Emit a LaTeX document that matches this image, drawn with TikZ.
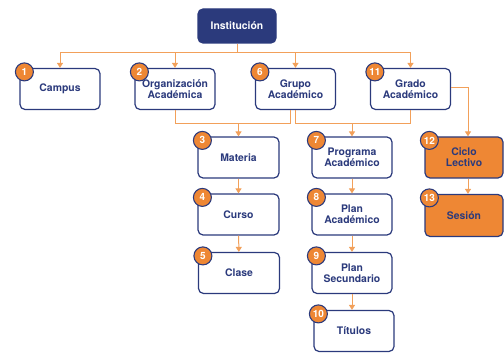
\documentclass[tikz,border=0pt]{standalone}
\usepackage{fontspec}
\setmainfont{TeX Gyre Heros}
\usetikzlibrary{arrows.meta}
\definecolor{navy}{HTML}{2B3A7C}
\definecolor{orng}{HTML}{EE8734}
\definecolor{lorng}{HTML}{F2A05A}
\begin{document}
\begin{tikzpicture}[x=1pt,y=-1pt,
  box/.style={rectangle,rounded corners=5pt,draw=navy,line width=1.2pt,fill=white,
    minimum width=80pt,minimum height=41pt,text=navy,align=center,
    font=\bfseries\fontsize{10.4}{11}\selectfont,inner sep=1pt},
  obox/.style={box,fill=orng,minimum width=78pt},
  badge/.style={circle,draw=navy,line width=1.1pt,fill=orng,minimum size=18pt,inner sep=0pt,
    text=white,font=\bfseries\fontsize{10}{10}\selectfont},
  conn/.style={draw=lorng,line width=1pt},
  arr/.style={conn,-{Triangle[width=6pt,length=5pt]}}
]
\useasboundingbox (0,0) rectangle (504,353);
% nodes
\node[box,fill=navy,text=white,minimum width=78pt,minimum height=34pt] (inst) at (237,26) {Institución};
\node[box] (campus) at (60,89) {Campus};
\node[box] (org) at (175,89) {Organización\\Académica};
\node[box] (grupo) at (295.5,89) {Grupo\\Académico};
\node[box] (grado) at (410.5,89) {Grado\\Académico};
\node[box,minimum width=81pt] (materia) at (238.5,157.5) {Materia};
\node[box,minimum width=81pt] (curso) at (238.5,214.5) {Curso};
\node[box,minimum width=81pt] (clase) at (239,273) {Clase};
\node[box] (prog) at (352,157.5) {Programa\\Académico};
\node[box] (planac) at (352,214.5) {Plan\\Académico};
\node[box] (plansec) at (352,273) {Plan\\Secundario};
\node[box] (titulos) at (354,331) {Títulos};
\node[obox] (ciclo) at (464,157.5) {Ciclo\\Lectivo};
\node[obox,minimum height=42pt] (sesion) at (464,215.5) {Sesión};
% coordinates
\coordinate (top) at (0,53);
\coordinate (mid) at (0,124);
\coordinate (gr) at (468,88);
% connectors
\draw[conn] (inst.south) -- (inst.south |- top);
\draw[conn] (campus.north |- top) -- (grado.north |- top);
\draw[arr] (campus.north |- top) -- (campus.north);
\draw[arr] (org.north |- top) -- (org.north);
\draw[arr] (grupo.north |- top) -- (grupo.north);
\draw[arr] (grado.north |- top) -- (grado.north);
% bracket 1
\draw[conn] (org.south) -- (org.south |- mid) -- ([xshift=-5.5pt]grupo.south |- mid) -- ([xshift=-5.5pt]grupo.south);
\draw[arr] (materia.north |- mid) -- (materia.north);
% bracket 2
\draw[conn] ([xshift=-0.5pt]grupo.south) -- ([xshift=-0.5pt]grupo.south |- mid) -- ([xshift=-0.5pt]grado.south |- mid) -- ([xshift=-0.5pt]grado.south);
\draw[arr] (prog.north |- mid) -- (prog.north);
% grado to ciclo
\draw[arr] (grado.east |- gr) -- (gr) -- (gr |- ciclo.north);
% verticals
\draw[arr] (materia) -- (curso);
\draw[arr] (curso) -- (clase);
\draw[arr] (prog) -- (planac);
\draw[arr] (planac) -- (plansec);
\draw[arr] (plansec.south) -- (plansec.south |- titulos.north);
\draw[arr] (ciclo.south -| gr) -- (sesion.north -| gr);
% badges
\foreach \n/\l in {campus/1,org/2,grupo/6,grado/11,materia/3,curso/4,clase/5,prog/7,planac/8,plansec/9,titulos/10,ciclo/12,sesion/13}
  \node[badge] (b\l) at ([xshift=5pt,yshift=-4pt]\n.north west) {\l};
\end{tikzpicture}
\end{document}
